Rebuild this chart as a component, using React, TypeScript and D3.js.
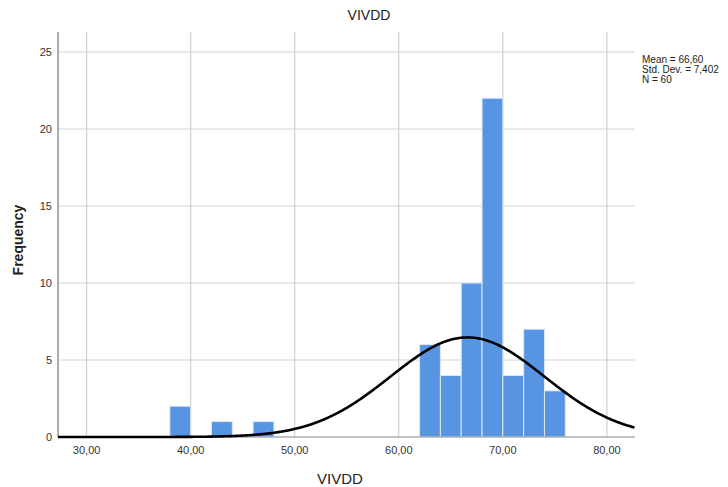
import * as d3 from 'd3'

// histogram bins of VIVDD (width 2)
const BIN_STARTS = [38, 42, 46, 62, 64, 66, 68, 70, 72, 74]
const BIN_COUNTS = [2, 1, 1, 6, 4, 10, 22, 4, 7, 3]
const BIN_WIDTH = 2
const X_TICKS = [30, 40, 50, 60, 70, 80]
const Y_TICKS = [0, 5, 10, 15, 20, 25]
const MEAN = 66.6
const SD = 7.402
const N = 60

const WIDTH = 728
const HEIGHT = 487
const MARGIN = { top: 32, right: 93, bottom: 50, left: 58 }

const fmt = (v: number) => v.toFixed(2).replace('.', ',')

export default function App() {
  const innerW = WIDTH - MARGIN.left - MARGIN.right
  const innerH = HEIGHT - MARGIN.top - MARGIN.bottom

  const x = d3.scaleLinear().domain([27.25, 82.7]).range([0, innerW])
  const y = d3.scaleLinear().domain([0, 26.3]).range([innerH, 0])

  const pdf = (v: number) =>
    (N * BIN_WIDTH) / (SD * Math.sqrt(2 * Math.PI)) * Math.exp(-((v - MEAN) ** 2) / (2 * SD * SD))
  const curvePts = d3.range(27.25, 82.71, 0.1).map(v => [v, pdf(v)] as [number, number])
  const line = d3.line<[number, number]>().x(d => x(d[0])).y(d => y(d[1])).curve(d3.curveBasis)

  return (
    <svg width={WIDTH} height={HEIGHT} style={{ position: 'absolute', left: 0, top: 0, fontFamily: 'Liberation Sans, Arial, sans-serif' }}>
      <rect width={WIDTH} height={HEIGHT} fill="white" />
      <text x={369} y={20} textAnchor="middle" fontSize={14} fill="#222">VIVDD</text>
      <g transform={`translate(${MARGIN.left},${MARGIN.top})`}>
        {/* grid */}
        {Y_TICKS.map(t => (
          <line key={'h' + t} x1={0} x2={innerW} y1={y(t)} y2={y(t)} stroke="#d4d4d4" strokeWidth={1} />
        ))}
        {X_TICKS.map(t => (
          <line key={'v' + t} x1={x(t)} x2={x(t)} y1={0} y2={innerH} stroke="#c8c8c8" strokeWidth={1} />
        ))}

        {/* bars */}
        {BIN_STARTS.map((s, i) => (
          <rect
            key={s}
            x={x(s)}
            y={y(BIN_COUNTS[i])}
            width={x(s + BIN_WIDTH) - x(s)}
            height={y(0) - y(BIN_COUNTS[i])}
            fill="#5795e3"
            stroke="#dce8f8"
            strokeWidth={1}
          />
        ))}

        {/* axes */}
        <line x1={0} x2={innerW} y1={innerH} y2={innerH} stroke="#9a9a9a" strokeWidth={1} />
        <line x1={0} x2={0} y1={0} y2={innerH} stroke="#777" strokeWidth={1.2} />

        {/* normal curve */}
        <path d={line(curvePts) ?? ''} fill="none" stroke="#000" strokeWidth={2.6} />

        {Y_TICKS.map(t => (
          <text key={'yl' + t} x={-6} y={y(t)} dy="0.35em" textAnchor="end" fontSize={11} fill="#333">{t}</text>
        ))}
        {X_TICKS.map(t => (
          <text key={'xl' + t} x={x(t)} y={innerH + 17} textAnchor="middle" fontSize={11} fill="#333">{fmt(t)}</text>
        ))}
      </g>

      <text x={340} y={484} textAnchor="middle" fontSize={15} fill="#222">VIVDD</text>
      <text transform="translate(23,240) rotate(-90)" textAnchor="middle" fontSize={14} fontWeight="bold" fill="#222">Frequency</text>

      <g fontSize={10} fill="#222">
        <text x={642} y={63}>Mean = 66,60</text>
        <text x={642} y={73}>Std. Dev. = 7,402</text>
        <text x={642} y={83}>N = 60</text>
      </g>
    </svg>
  )
}
